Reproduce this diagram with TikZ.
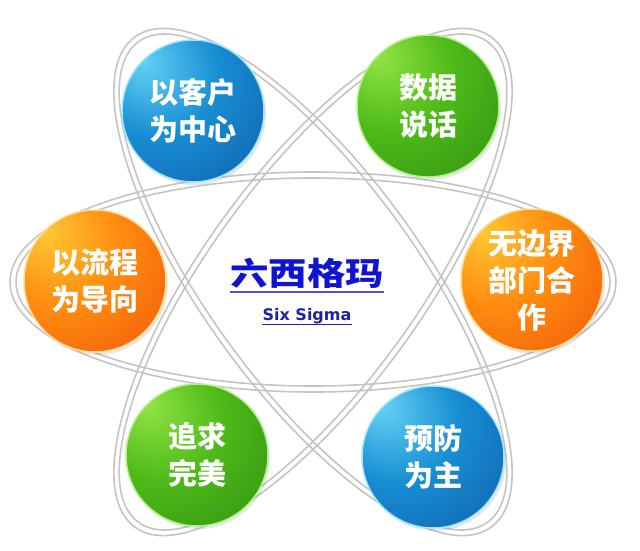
\documentclass[tikz,border=0pt]{standalone}
\usepackage{fontspec}
\newfontfamily\cjk{Noto Sans CJK SC}
\newfontfamily\latinsf{DejaVu Sans}
\usetikzlibrary{shadows}

\definecolor{bluehi}{RGB}{100,210,246}
\definecolor{bluemid}{RGB}{24,142,210}
\definecolor{bluedk}{RGB}{10,70,154}
\definecolor{bluerim}{RGB}{160,228,255}
\definecolor{greenhi}{RGB}{146,228,70}
\definecolor{greenmid}{RGB}{78,186,24}
\definecolor{greendk}{RGB}{34,122,16}
\definecolor{greenrim}{RGB}{176,242,136}
\definecolor{orangehi}{RGB}{255,200,52}
\definecolor{orangemid}{RGB}{255,140,16}
\definecolor{orangedk}{RGB}{232,60,8}
\definecolor{orangerim}{RGB}{255,220,150}
\definecolor{ringgray}{RGB}{196,196,196}
\definecolor{titleblue}{RGB}{16,20,210}
\definecolor{subblue}{RGB}{34,34,160}

\pgfdeclareradialshading{bluesphere}{\pgfpoint{-18bp}{18bp}}{color(0bp)=(bluehi); color(22bp)=(bluemid); color(62bp)=(bluedk); color(80bp)=(bluedk)}
\pgfdeclareradialshading{greensphere}{\pgfpoint{-18bp}{18bp}}{color(0bp)=(greenhi); color(22bp)=(greenmid); color(62bp)=(greendk); color(80bp)=(greendk)}
\pgfdeclareradialshading{orangesphere}{\pgfpoint{-18bp}{18bp}}{color(0bp)=(orangehi); color(22bp)=(orangemid); color(62bp)=(orangedk); color(80bp)=(orangedk)}

\begin{document}
\begin{tikzpicture}[x=1pt, y=1pt,
  ring/.style={draw=ringgray, line width=1.6pt},
  sphere/.style={circle, minimum size=142pt, inner sep=0pt, text=white, align=center,
    font=\cjk\bfseries\fontsize{29}{37}\selectfont, line width=1.5pt,
    drop shadow={opacity=0.18, shadow xshift=2pt, shadow yshift=-3pt}},
  bluesph/.style={sphere, shading=bluesphere, draw=bluerim},
  greensph/.style={sphere, shading=greensphere, draw=greenrim},
  orangesph/.style={sphere, shading=orangesphere, draw=orangerim}]
\useasboundingbox (0,0) rectangle (640,-550);
\coordinate (ctr) at (313,-282);
% the three orbits, each a tube of two edges
\foreach \ang in {0,54,-54} {
  \draw [ring, rotate around={\ang:(ctr)}] (ctr) ellipse [x radius=303, y radius=110];
  \draw [ring, rotate around={\ang:(ctr)}] (ctr) ellipse [x radius=297, y radius=104];
}
\node [bluesph] (customer) at (193,-111) {以客户\\为中心};
\node [greensph] (data) at (428,-106) {数据\\说话};
\node [orangesph] (process) at (95,-281) {以流程\\为导向};
\node [orangesph] (boundary) at (532,-280) {无边界\\部门合\\作};
\node [greensph] (perfect) at (197,-455) {追求\\完美};
\node [bluesph] (prevent) at (433,-457) {预防\\为主};
% centre title
\node [anchor=base, inner sep=0pt, text=titleblue, font=\cjk\bfseries\fontsize{32}{32}\selectfont] (title) at (307,-285) {\scalebox{1.2}[1]{六西格玛}};
\draw [titleblue!75, line width=1.8pt] ([yshift=-7pt]title.base west) -- ([yshift=-7pt]title.base east);
\node [anchor=base, inner sep=0pt, text=subblue, font=\latinsf\bfseries\fontsize{16}{16}\selectfont] (subtitle) at (307,-320.5) {Six Sigma};
\draw [subblue, line width=1.3pt] ([yshift=-4pt]subtitle.base west) -- ([yshift=-4pt]subtitle.base east);
\end{tikzpicture}
\end{document}
